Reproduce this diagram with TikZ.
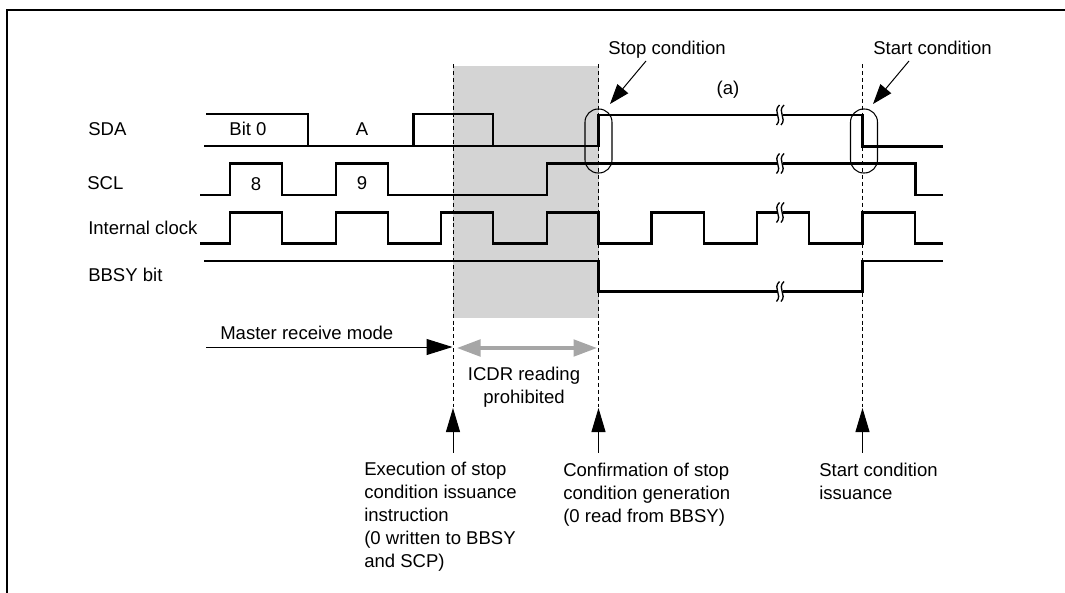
\documentclass[tikz,border=0pt]{standalone}
\usepackage{fontspec}
\setmainfont{Liberation Sans}
\usetikzlibrary{arrows.meta, positioning}
\definecolor{zonegray}{RGB}{212,212,212}
\definecolor{spangray}{RGB}{166,166,166}
\tikzset{
  lbl/.style={inner sep=0pt, anchor=base west, align=left,
    font=\fontsize{13.9}{17.25}\selectfont},
  midlbl/.style={lbl, anchor=base, align=center},
  signal/.style={line width=1.7pt, line join=miter},
  guide/.style={line width=0.75pt, dash pattern=on 3pt off 2.2pt},
  ring/.style={rectangle, draw, line width=0.8pt, rounded corners=9.9pt,
    minimum width=20.25pt, minimum height=48pt, inner sep=0pt},
  uparrow/.style={-{Triangle[length=18pt, width=10.5pt]}, line width=0.75pt},
  slantarrow/.style={-{Triangle[length=15pt, width=10.5pt]}, line width=0.75pt},
  spanarrow/.style={{Triangle[length=18pt, width=12pt]}-{Triangle[length=18pt, width=12pt]},
    line width=3.6pt, color=spangray}
}
\begin{document}
\begin{tikzpicture}[x=0.75pt, y=-0.75pt]
  \useasboundingbox (0,0) rectangle (1065,593);

  % Frame, open on the right and at the bottom
  \draw[line width=1.5pt] (1065,10) -- (7,10) -- (7,593);

  % Prohibited zone
  \fill[zonegray] (453,66) rectangle (598.5,318);

  % Waveforms
  \draw[signal] (206,114) -- (308,114) -- (308,146);
  \draw[signal] (204,146) -- (598.5,146) -- (598.5,115) -- (862.5,115) -- (862.5,146.5) -- (942.5,146.5);
  \draw[signal] (413.5,146) -- (413.5,114) -- (493,114) -- (493,146);
  \draw[signal] (200,195) -- (230,195) -- (230,163.5) -- (282,163.5) -- (282,195) -- (336,195)
    -- (336,163.5) -- (388,163.5) -- (388,195) -- (547,195) -- (547,163.5) -- (915.5,163.5)
    -- (915.5,195) -- (942.5,195);
  \draw[signal] (200,243.5) -- (230,243.5) -- (230,212.5) -- (282,212.5) -- (282,243.5) -- (336,243.5)
    -- (336,212.5) -- (388,212.5) -- (388,243.5) -- (441,243.5) -- (441,212.5) -- (493,212.5)
    -- (493,243.5) -- (547,243.5) -- (547,212.5) -- (598.5,212.5) -- (598.5,243.5) -- (651.5,243.5)
    -- (651.5,212.5) -- (704,212.5) -- (704,243.5) -- (757,243.5) -- (757,212.5) -- (809,212.5)
    -- (809,243.5) -- (862.5,243.5) -- (862.5,212.5) -- (915,212.5) -- (915,243.5) -- (942.5,243.5);
  \draw[signal] (204,261) -- (598.5,261) -- (598.5,291.5) -- (862.5,291.5) -- (862.5,261) -- (942.5,261);

  % Break marks
  \foreach \y in {115,163.5,212.5,291.5} {
    \fill[white] (777.5,\y-2) rectangle (782.5,\y+2);
    \draw[line width=1pt] (779.5,\y-10) .. controls (772,\y-3) and (783,\y+3) .. (776.5,\y+10);
    \draw[line width=1pt] (784,\y-10) .. controls (776.5,\y-3) and (787.5,\y+3) .. (781,\y+10);
  }

  % Guide lines
  \foreach \x in {453,598.5,862.5} {
    \draw[guide] (\x,64) -- (\x,407);
  }

  % Rings round the conditions
  \node[ring] (stopring) at (598.5,141) {};
  \node[ring] (startring) at (864,141) {};

  % Signal names
  \node[lbl] (sdaname) at (88,135) {SDA};
  \node[lbl] (sclname) at (87,189) {SCL};
  \node[lbl] (clkname) at (88,234) {Internal clock};
  \node[lbl] (bbsyname) at (88,281) {BBSY bit};

  % Labels on the waveforms
  \node[midlbl] (bitzero) at (248,135) {Bit 0};
  \node[midlbl] (ackbit) at (362,135) {A};
  \node[midlbl] (eight) at (256,190) {8};
  \node[midlbl] (nine) at (362,189) {9};
  \node[midlbl] (mark) at (728,94) {(a)};

  % Conditions on top
  \node[lbl] (stoplbl) at (608,54) {Stop condition};
  \node[lbl] (startlbl) at (873,54) {Start condition};
  \coordinate (stoptail) at (646,61);
  \coordinate (stoptip) at (610,104);
  \coordinate (starttail) at (909,61);
  \coordinate (starttip) at (873,104);
  \draw[slantarrow] (stoptail) -- (stoptip);
  \draw[slantarrow] (starttail) -- (starttip);

  % Mode arrows
  \node[lbl] (modelbl) at (220,339) {Master receive mode};
  \coordinate (modetail) at (206,347);
  \coordinate (modetip) at (452.5,347);
  \draw[-{Triangle[length=19.5pt, width=12pt]}, line width=0.75pt] (modetail) -- (modetip);
  \coordinate (spanl) at (456.5,348);
  \coordinate (spanr) at (597.5,348);
  \draw[spanarrow] (spanl) -- (spanr);
  \node[midlbl] (icdrlbl) at (524,403) {ICDR reading\\prohibited};

  % Events below
  \node[lbl] (execlbl) at (364,567) {Execution of stop\\condition issuance\\instruction\\(0 written to BBSY\\and SCP)};
  \node[lbl] (conflbl) at (563,522) {Confirmation of stop\\condition generation\\(0 read from BBSY)};
  \node[lbl] (issuelbl) at (819,499) {Start condition\\issuance};
  \coordinate (exectail) at (453,452.5);
  \coordinate (exectip) at (453,408);
  \coordinate (conftail) at (598.5,452.5);
  \coordinate (conftip) at (598.5,408);
  \coordinate (issuetail) at (862.5,452.5);
  \coordinate (issuetip) at (862.5,408);
  \draw[uparrow] (exectail) -- (exectip);
  \draw[uparrow] (conftail) -- (conftip);
  \draw[uparrow] (issuetail) -- (issuetip);
\end{tikzpicture}
\end{document}
